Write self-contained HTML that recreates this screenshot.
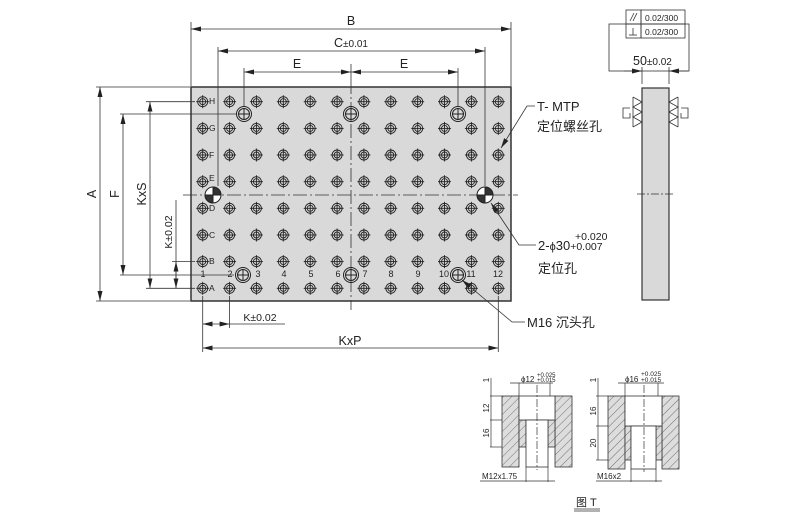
<!DOCTYPE html>
<html><head><meta charset="utf-8"><style>
html,body{margin:0;padding:0;background:#fff}
svg{display:block}
text{font-family:"Liberation Sans","Noto Sans CJK SC",sans-serif;fill:#222}
</style></head><body>
<svg width="803" height="522" viewBox="0 0 803 522" xmlns="http://www.w3.org/2000/svg">
<defs>
<g id="h" stroke="#222" fill="none" stroke-width="0.9">
<circle r="5"/><circle r="3"/><line x1="-6.5" y1="0" x2="6.5" y2="0"/><line x1="0" y1="-6.5" x2="0" y2="6.5"/>
</g>
<g id="b" stroke="#222" fill="none" stroke-width="1">
<circle r="7.5"/><circle r="5.5"/><line x1="-5" y1="0" x2="5" y2="0"/><line x1="0" y1="-5" x2="0" y2="5"/>
</g>
<g id="d" stroke="#222" stroke-width="1">
<circle r="8" fill="#fff"/><path d="M0 0 L-8 0 A8 8 0 0 0 0 8 Z" fill="#333"/><path d="M0 0 L8 0 A8 8 0 0 0 0 -8 Z" fill="#333"/>
</g>
<marker id="a" markerWidth="10" markerHeight="6" refX="10" refY="3" orient="auto-start-reverse" markerUnits="userSpaceOnUse"><path d="M0 0.5 L10 3 L0 5.5 Z" fill="#222"/></marker>
<pattern id="hat" width="6" height="6" patternUnits="userSpaceOnUse" patternTransform="rotate(45)"><rect width="6" height="6" fill="#ddd"/><line x1="0" y1="0" x2="0" y2="6" stroke="#555" stroke-width="0.8"/></pattern>
<g id="row"><use href="#h" x="202.7"/><use href="#h" x="229.6"/><use href="#h" x="256.4"/><use href="#h" x="283.3"/><use href="#h" x="310.2"/><use href="#h" x="337.1"/><use href="#h" x="363.9"/><use href="#h" x="390.8"/><use href="#h" x="417.7"/><use href="#h" x="444.5"/><use href="#h" x="471.4"/><use href="#h" x="498.3"/></g>
</defs>

<rect x="191" y="87" width="320" height="214" fill="#d9d9d9" stroke="#333" stroke-width="1.5"/>
<g stroke="#333" stroke-width="0.8" stroke-dasharray="14 3 2 3">
<line x1="183" y1="195" x2="518" y2="195"/><line x1="351" y1="80" x2="351" y2="310"/>
</g>

<use href="#row" y="101.7"/><use href="#row" y="128.4"/><use href="#row" y="155"/><use href="#row" y="181.7"/>
<use href="#row" y="208.3"/><use href="#row" y="235"/><use href="#row" y="261.6"/><use href="#row" y="288.3"/>
<use href="#b" x="244" y="114"/><use href="#b" x="351" y="114"/><use href="#b" x="458" y="114"/>
<use href="#b" x="243" y="275"/><use href="#b" x="351" y="275"/><use href="#b" x="458" y="275"/>
<use href="#d" x="213" y="195"/><use href="#d" x="485" y="195"/>

<g font-size="8.5" fill="#333">
<text x="209" y="104">H</text><text x="209" y="131">G</text><text x="209" y="158">F</text><text x="209" y="181">E</text><text x="209" y="211">D</text><text x="209" y="238">C</text><text x="209" y="264">B</text><text x="209" y="291">A</text>
<g font-size="9" text-anchor="middle"><text x="203" y="277">1</text><text x="230" y="277">2</text><text x="258" y="277">3</text><text x="284" y="277">4</text><text x="311" y="277">5</text><text x="338" y="277">6</text><text x="365" y="277">7</text><text x="391" y="277">8</text><text x="418" y="277">9</text><text x="444" y="277">10</text><text x="471" y="277">11</text><text x="498" y="277">12</text></g>
</g>

<g stroke="#333" stroke-width="0.8" fill="none">
<line x1="191" y1="22" x2="191" y2="86"/><line x1="511" y1="22" x2="511" y2="86"/>
<line x1="191" y1="29" x2="511" y2="29" marker-start="url(#a)" marker-end="url(#a)"/>
<line x1="218" y1="47" x2="218" y2="186"/><line x1="485" y1="47" x2="485" y2="186"/>
<line x1="218" y1="51" x2="485" y2="51" marker-start="url(#a)" marker-end="url(#a)"/>
<line x1="244" y1="68" x2="244" y2="106"/><line x1="458" y1="68" x2="458" y2="106"/>
<line x1="244" y1="72" x2="351" y2="72" marker-start="url(#a)" marker-end="url(#a)"/>
<line x1="351" y1="72" x2="458" y2="72" marker-start="url(#a)" marker-end="url(#a)"/>
<line x1="351" y1="64" x2="351" y2="80"/>
<line x1="96" y1="87" x2="190" y2="87"/><line x1="96" y1="301" x2="190" y2="301"/>
<line x1="100" y1="87" x2="100" y2="301" marker-start="url(#a)" marker-end="url(#a)"/>
<line x1="120" y1="114" x2="236" y2="114"/><line x1="120" y1="275" x2="234" y2="275"/>
<line x1="123" y1="114" x2="123" y2="275" marker-start="url(#a)" marker-end="url(#a)"/>
<line x1="146" y1="101.7" x2="195" y2="101.7"/><line x1="146" y1="288.3" x2="195" y2="288.3"/>
<line x1="150" y1="101.7" x2="150" y2="288.3" marker-start="url(#a)" marker-end="url(#a)"/>
<line x1="172" y1="261.6" x2="195" y2="261.6"/>
<line x1="176" y1="200" x2="176" y2="288.3"/>
<line x1="176" y1="261.6" x2="176" y2="288.3" marker-start="url(#a)" marker-end="url(#a)"/>
<line x1="202.7" y1="296" x2="202.7" y2="352"/><line x1="229.6" y1="296" x2="229.6" y2="328"/>
<line x1="202.7" y1="324" x2="229.6" y2="324" marker-start="url(#a)" marker-end="url(#a)"/>
<line x1="229.6" y1="324" x2="285" y2="324"/>
<line x1="498.3" y1="296" x2="498.3" y2="352"/>
<line x1="202.7" y1="348" x2="498.3" y2="348" marker-start="url(#a)" marker-end="url(#a)"/>
<polyline points="535,106 527,106 501,148" marker-end="url(#a)"/>
<polyline points="536,245 519,245 491,203" marker-end="url(#a)"/>
<polyline points="525,322 512,322 462,280" marker-end="url(#a)"/>
</g>

<g font-size="12.5" text-anchor="middle">
<text x="351" y="25">B</text>
<text x="351" y="47">C<tspan font-size="10">±0.01</tspan></text>
<text x="297" y="68">E</text><text x="404" y="68">E</text>
<text x="260" y="321" font-size="10.5">K<tspan>±0.02</tspan></text>
<text x="350" y="345">KxP</text>
</g>
<text transform="translate(96,194) rotate(-90)" font-size="12.5" text-anchor="middle">A</text>
<text transform="translate(119,194) rotate(-90)" font-size="12.5" text-anchor="middle">F</text>
<text transform="translate(146,194) rotate(-90)" font-size="12.5" text-anchor="middle">KxS</text>
<text transform="translate(172,232) rotate(-90)" font-size="10.5" text-anchor="middle">K±0.02</text>

<g font-size="13">
<text x="537" y="111">T- MTP</text>
<text x="537" y="131">定位螺丝孔</text>
<text x="538" y="250">2-<tspan font-size="11">ϕ</tspan>30<tspan font-size="10.5">+0.007</tspan></text>
<text x="575" y="240" font-size="10.5">+0.020</text>
<text x="538" y="273">定位孔</text>
<text x="527" y="327">M16 沉头孔</text>
</g>

<rect x="642" y="88" width="27" height="212" fill="#d9d9d9" stroke="#333" stroke-width="1.2"/>
<line x1="637" y1="194" x2="675" y2="194" stroke="#333" stroke-width="0.8" stroke-dasharray="8 2 2 2"/>
<g stroke="#333" stroke-width="0.8" fill="none">
<rect x="609" y="24" width="80" height="47"/>
<rect x="626" y="10" width="15" height="14"/><rect x="641" y="10" width="44" height="14"/>
<rect x="626" y="24" width="15" height="14"/><rect x="641" y="24" width="44" height="14"/>
<line x1="630" y1="21" x2="634" y2="13"/><line x1="633" y1="21" x2="637" y2="13"/>
<line x1="633" y1="28" x2="633" y2="35"/><line x1="629" y1="35" x2="637" y2="35"/>
<line x1="642" y1="67" x2="642" y2="84"/><line x1="669" y1="67" x2="669" y2="84"/>
<line x1="624" y1="71" x2="642" y2="71" marker-end="url(#a)"/><line x1="688" y1="71" x2="669" y2="71" marker-end="url(#a)"/>
<line x1="633" y1="97" x2="633" y2="127"/>
<polyline points="633,97 642,102 633,107 642,112 633,117 642,122 633,127"/>
<line x1="678" y1="97" x2="678" y2="127"/>
<polyline points="678,97 669,102 678,107 669,112 678,117 669,122 678,127"/>
<path d="M630 108 L623 108 L623 118 L630 118 L630 113"/>
<path d="M681 108 L688 108 L688 118 L681 118 L681 113"/>
</g>
<g font-size="8.5"><text x="645" y="21">0.02/300</text><text x="645" y="35">0.02/300</text></g>
<text x="633" y="65" font-size="12.5">50<tspan font-size="10">±0.02</tspan></text>

<g stroke="#333" stroke-width="0.8">
<rect x="502" y="396" width="17" height="71" fill="url(#hat)"/>
<rect x="555" y="396" width="17" height="71" fill="url(#hat)"/>
<rect x="519" y="420" width="7" height="27" fill="url(#hat)"/>
<rect x="548" y="420" width="7" height="27" fill="url(#hat)"/>
<rect x="519" y="396" width="36" height="24" fill="#fff"/>
<rect x="526" y="420" width="22" height="47" fill="#fff"/>
<rect x="608" y="396" width="17" height="73" fill="url(#hat)"/>
<rect x="662" y="396" width="17" height="73" fill="url(#hat)"/>
<rect x="625" y="426" width="6" height="34" fill="url(#hat)"/>
<rect x="656" y="426" width="6" height="34" fill="url(#hat)"/>
<rect x="625" y="396" width="37" height="30" fill="#fff"/>
<rect x="631" y="426" width="25" height="43" fill="#fff"/>
</g>
<g stroke="#333" stroke-width="0.7" fill="none">
<line x1="537" y1="385" x2="537" y2="470" stroke-dasharray="8 2 2 2"/>
<line x1="644" y1="385" x2="644" y2="472" stroke-dasharray="8 2 2 2"/>
<line x1="519" y1="383" x2="519" y2="396"/><line x1="550" y1="383" x2="550" y2="396"/>
<line x1="510" y1="383" x2="553" y2="383"/>
<line x1="625" y1="383" x2="625" y2="396"/><line x1="658" y1="383" x2="658" y2="396"/>
<line x1="618" y1="383" x2="664" y2="383"/>
<line x1="490" y1="396" x2="502" y2="396"/><line x1="490" y1="420" x2="502" y2="420"/><line x1="490" y1="447" x2="502" y2="447"/>
<line x1="491" y1="378" x2="491" y2="447"/>
<line x1="596" y1="396" x2="608" y2="396"/><line x1="596" y1="426" x2="608" y2="426"/><line x1="596" y1="460" x2="608" y2="460"/>
<line x1="598" y1="378" x2="598" y2="460"/>
<line x1="526" y1="467" x2="526" y2="482"/><line x1="548" y1="467" x2="548" y2="482"/>
<line x1="480" y1="481" x2="555" y2="481"/>
<line x1="631" y1="469" x2="631" y2="482"/><line x1="656" y1="469" x2="656" y2="482"/>
<line x1="596" y1="481" x2="662" y2="481"/>
<line x1="574" y1="509" x2="600" y2="509"/><line x1="574" y1="511" x2="600" y2="511"/>
</g>
<g font-size="8">
<text x="521" y="382">ϕ12</text><text x="537" y="377" font-size="6">+0.025</text><text x="537" y="382" font-size="6">+0.015</text>
<text x="625" y="382">ϕ16</text><text x="641" y="376" font-size="6.5">+0.025</text><text x="641" y="382" font-size="6.5">+0.015</text>
<text x="482" y="479">M12x1.75</text>
<text x="597" y="479">M16x2</text>
</g>
<g font-size="8" text-anchor="middle">
<text transform="translate(489,380) rotate(-90)">1</text>
<text transform="translate(489,408) rotate(-90)">12</text>
<text transform="translate(489,433) rotate(-90)">16</text>
<text transform="translate(596,380) rotate(-90)">1</text>
<text transform="translate(596,411) rotate(-90)">16</text>
<text transform="translate(596,443) rotate(-90)">20</text>
</g>
<text x="576" y="506" font-size="11">图 T</text>
</svg>
</body></html>
